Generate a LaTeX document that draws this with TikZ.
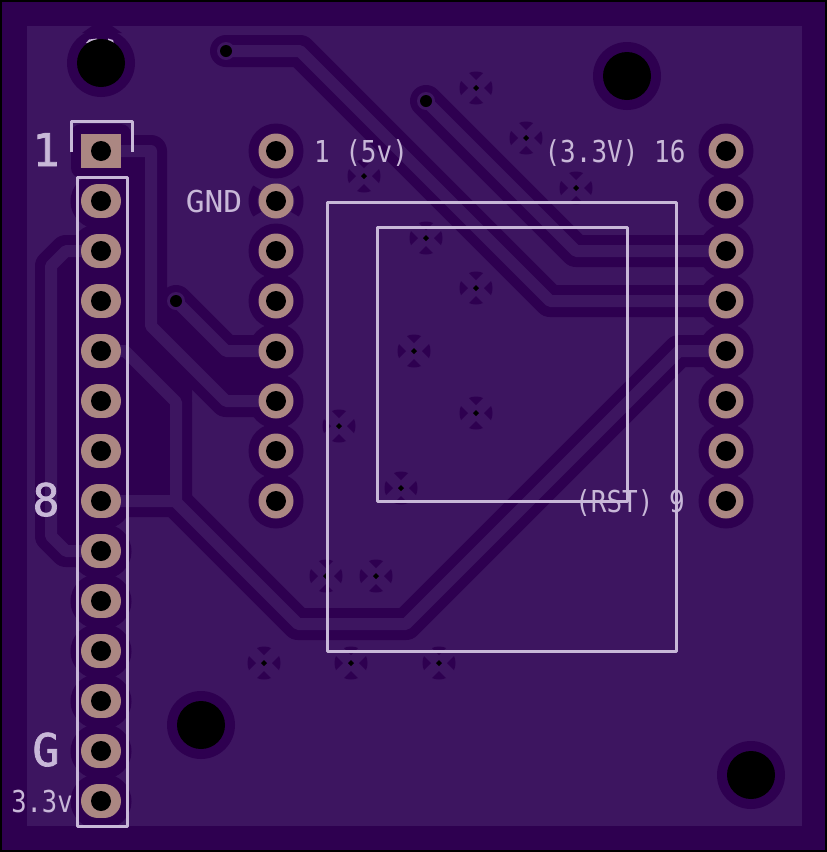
\documentclass[tikz,border=0pt]{standalone}
\usepackage{fontspec}
\setmainfont{DejaVu Sans Mono}
\newfontfamily\bigsilk[FakeBold=1.6]{DejaVu Sans Mono}
\definecolor{boarddark}{HTML}{2E0050}
\definecolor{pour}{HTML}{3D1560}
\definecolor{padcol}{HTML}{AB8782}
\definecolor{silk}{HTML}{C8B8D8}
\tikzset{
  clear/.style={draw=boarddark,line width=32pt,line cap=round,line join=round},
  trace/.style={draw=pour,line width=12pt,line cap=round,line join=round},
  silkline/.style={draw=silk,line width=3pt,line join=round},
  lab/.style={text=silk,anchor=base,inner sep=0pt,font=\fontsize{26}{26}\selectfont},
  biglab/.style={text=silk,anchor=base,inner sep=0pt,font=\bigsilk\fontsize{45}{45}\selectfont}
}
\newcommand{\pathA}{(101,151) -- (151,151) -- (151,326) -- (226,401) -- (276,401)}
\newcommand{\pathB}{(176,301) -- (226,351) -- (276,351)}
\newcommand{\pathC}{(101,351) -- (125,351) -- (176,402) -- (176,501)}
\newcommand{\pathD}{(101,501) -- (175,501) -- (298,624) -- (406,624) -- (679,351) -- (726,351)}
\newcommand{\pathE}{(101,251) -- (66,251) -- (51,266) -- (51,536) -- (66,551) -- (101,551)}
\newcommand{\pathF}{(226,51) -- (300,51) -- (550,301) -- (726,301)}
\newcommand{\pathG}{(426,101) -- (576,251) -- (726,251)}
\begin{document}
\begin{tikzpicture}[x=1pt,y=-1pt]
\useasboundingbox (0,0) rectangle (827,852);
% board
\fill[black] (0,0) rectangle (827,852);
\fill[boarddark] (2,2) rectangle (825,850);
\fill[pour] (27,26) rectangle (802,826);
% solid clearance areas
\fill[boarddark] (57,251) rectangle (101,551);
\fill[boarddark] (101,151) rectangle (151,501);
\fill[boarddark] (125,351) -- (176,402) -- (176,501) -- (125,501) -- cycle;
\fill[boarddark] (151,326) -- (192,367) -- (192,400) -- (176,400) -- (125,351) -- cycle;
\fill[boarddark] (176,301) -- (226,351) -- (276,351) -- (276,401) -- (226,401) -- (151,326) -- (151,301) -- cycle;
\fill[boarddark] (92,26) -- (112,26) -- (122,33) -- (82,33) -- cycle;
\fill[boarddark,rounded corners=10pt] (71,124) rectangle (131,178);
% trace clearances
\foreach \p in {\pathA,\pathB,\pathC,\pathD,\pathE,\pathF,\pathG} \draw[clear] \p;
% mounting hole clearances
\foreach \x/\y in {101/63,627/76,201/725,751/775} \fill[boarddark] (\x,\y) circle (34);
% pad clearances
\foreach \y in {201,251,...,801} \draw[boarddark,line width=55pt,line cap=round] (98,\y) -- (104,\y);
\foreach \y in {151,251,301,...,501} \fill[boarddark] (276,\y) circle (27.5);
\foreach \y in {151,201,...,501} \fill[boarddark] (726,\y) circle (27.5);
% thermal relief of the GND pin
\draw[boarddark,line width=9pt] (276,201) ++(145:23) arc[start angle=145,end angle=215,radius=23];
\draw[boarddark,line width=9pt] (276,201) ++(-35:23) arc[start angle=-35,end angle=35,radius=23];
% thermal vias
\foreach \x/\y in {476/88,526/138,576/188,364/176,426/238,476/288,414/351,476/413,339/426,401/488,326/576,376/576,264/663,351/663,439/663}{
  \begin{scope}[shift={(\x,\y)}]
    \foreach \a in {0,90,180,270}{
      \fill[boarddark,rotate=\a] (8,0) -- (15,-7) .. controls (17,-3) and (17,3) .. (15,7) -- cycle;
    }
  \end{scope}
}
% traces
\foreach \p in {\pathA,\pathB,\pathC,\pathD,\pathE,\pathF,\pathG} \draw[trace] \p;
% vias on traces
\foreach \x/\y in {226/51,426/101,176/301} {\fill[pour] (\x,\y) circle (9);}
% silk slivers at the top hole
\fill[silk] (86,43) -- (89,39.5) -- (97,38.5) -- (97,44) -- cycle;
\fill[silk] (108,38.5) -- (113,40) -- (114,44) -- (108,44) -- cycle;
% holes
\foreach \x/\y in {101/63,627/76,201/725,751/775} \fill[black] (\x,\y) circle (24);
% header pads
\fill[padcol] (81,134) rectangle (121,168);
\fill[black] (101,151) circle (10);
\foreach \y in {201,251,...,801}{
  \draw[padcol,line width=34pt,line cap=round] (98,\y) -- (104,\y);
  \fill[black] (101,\y) circle (10);
}
\foreach \x in {276,726}\foreach \y in {151,201,...,501}{
  \fill[padcol] (\x,\y) circle (17.5);
  \fill[black] (\x,\y) circle (10);
}
% small drill holes
\foreach \x/\y in {226/51,426/101,176/301} {\fill[black] (\x,\y) circle (6);}
\foreach \x/\y in {476/88,526/138,576/188,364/176,426/238,476/288,414/351,476/413,339/426,401/488,326/576,376/576,264/663,351/663,439/663}{
  \fill[black] (\x-3,\y) -- (\x,\y-3) -- (\x+3,\y) -- (\x,\y+3) -- cycle;
}
% silk
\draw[silkline] (327,202) rectangle (676,651);
\draw[silkline] (377,227) rectangle (627,501);
\draw[silkline] (77,177) rectangle (127,826);
\draw[silkline] (71,152) -- (71,121) -- (132,121) -- (132,152);
% labels
\node[lab] (t5v) at (361,162) {\scalebox{1}[1.16]{1 (5v)}};
\node[lab] (t33v) at (615,162) {\scalebox{1}[1.16]{(3.3V) 16}};
\node[lab] (tgnd) at (214,212) {\scalebox{1.2}[1.16]{GND}};
\node[lab] (trst) at (630,512) {\scalebox{1}[1.16]{(RST) 9}};
\node[lab] (t33) at (42,812) {\scalebox{0.98}[1.16]{3.3v}};
\node[biglab] (b1) at (46,166) {1};
\node[biglab] (b8) at (46,516) {8};
\node[biglab] (bg) at (46,766) {G};
\end{tikzpicture}
\end{document}
